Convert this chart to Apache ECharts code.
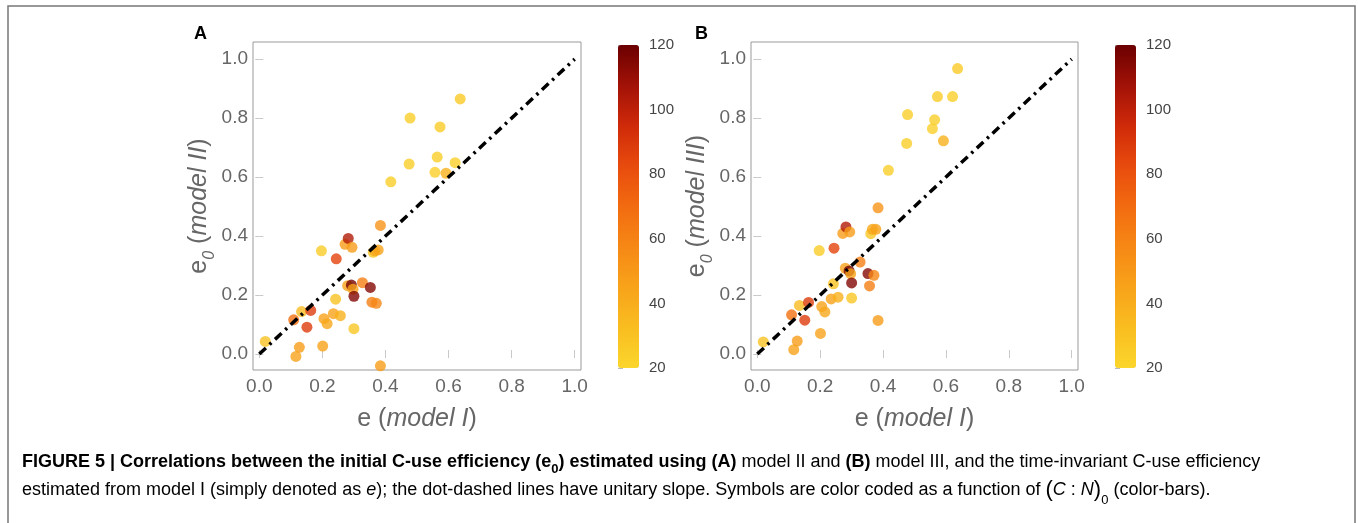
<!DOCTYPE html>
<html>
<head>
<meta charset="utf-8">
<script src="https://cdn.jsdelivr.net/npm/echarts@6/dist/echarts.min.js"></script>
<style>
  html, body { margin: 0; padding: 0; background: #fff; }
  #fig { width: 1358px; height: 523px; }
</style>
</head>
<body>
<div id="fig"></div>
<script>
// e estimated from model I (x of both panels)
const eModelI = [0.019, 0.116, 0.127, 0.109, 0.134, 0.163, 0.151, 0.201, 0.205, 0.215,
  0.235, 0.257, 0.242, 0.197, 0.244, 0.272, 0.282, 0.294, 0.280, 0.292,
  0.297, 0.300, 0.300, 0.327, 0.352, 0.357, 0.371, 0.361, 0.366, 0.377,
  0.384, 0.384, 0.417, 0.475, 0.478, 0.557, 0.564, 0.573, 0.592, 0.621, 0.637]
// e0 from model II (panel A)
const e0ModelII = [0.043, -0.008, 0.023, 0.116, 0.144, 0.148, 0.091, 0.027, 0.120, 0.103,
  0.137, 0.130, 0.186, 0.350, 0.323, 0.372, 0.392, 0.362, 0.232, 0.234,
  0.220, 0.196, 0.086, 0.242, 0.226, 0.176, 0.172, 0.345, 0.350, 0.353,
  0.436, -0.040, 0.584, 0.644, 0.800, 0.616, 0.668, 0.770, 0.613, 0.649, 0.865]
// e0 from model III (panel B)
const e0ModelIII = [0.041, 0.015, 0.044, 0.133, 0.165, 0.175, 0.115, 0.070, 0.161, 0.143,
  0.187, 0.193, 0.238, 0.351, 0.359, 0.409, 0.431, 0.414, 0.291, 0.282,
  0.272, 0.241, 0.190, 0.312, 0.273, 0.231, 0.267, 0.408, 0.423, 0.423,
  0.496, 0.114, 0.623, 0.714, 0.812, 0.764, 0.794, 0.873, 0.723, 0.873, 0.968]
// (C:N)0 used for the colour of each symbol
const cn0 = [30, 45, 48, 68, 33, 88, 88, 45, 45, 43,
  45, 38, 30, 25, 85, 48, 103, 48, 45, 118,
  45, 115, 28, 62, 114, 62, 58, 28, 42, 45,
  52, 48, 24, 24, 24, 23, 24, 25, 38, 23, 26]
// unit slope reference line
const unitLine = [[0, 0], [1, 1]]
const axisTicks = [0, 0.2, 0.4, 0.6, 0.8, 1.0]
const solarColors = ['#fbd62c', '#f9bd20', '#f8a31a', '#f68815', '#f26b10', '#e84b0d', '#cf2a09', '#a21207', '#6b0000']

const font = '"Liberation Sans", Arial, sans-serif'
const grey = '#666'

const chart = echarts.init(document.getElementById('fig'))

// frame axes of a panel
function frameX(grid, pos, label) {
  return {
    type: 'value', gridIndex: grid, position: pos, min: -0.02, max: 1.02,
    axisLine: {show: false},
    splitLine: {show: false},
    axisTick: {show: true, inside: true, length: 4, customValues: axisTicks, lineStyle: {color: '#c8c8c8'}},
    axisLabel: {
      show: label, customValues: axisTicks, color: grey, fontSize: 19, fontFamily: font, margin: 7,
      formatter: v => v.toFixed(1)
    }
  }
}

function frameY(grid, pos, label) {
  return {
    type: 'value', gridIndex: grid, position: pos, min: -0.054, max: 1.058,
    axisLine: {show: false},
    splitLine: {show: false},
    axisTick: {show: true, inside: true, length: 4, customValues: axisTicks, lineStyle: {color: '#c8c8c8'}},
    axisLabel: {
      show: label, customValues: axisTicks, color: grey, fontSize: 19, fontFamily: font, margin: 5,
      formatter: v => v.toFixed(1)
    }
  }
}

function colorAxis(grid) {
  return {
    type: 'value', gridIndex: grid, position: 'right', min: 20, max: 120, interval: 20,
    axisLine: {show: false},
    splitLine: {show: false},
    axisTick: {show: true, length: 5, lineStyle: {color: '#bbb'}},
    minorTick: {show: true, splitNumber: 4, length: 4, lineStyle: {color: '#ccc'}},
    axisLabel: {color: '#444', fontSize: 15, fontFamily: font, margin: 10}
  }
}

const nameRich = {
  n: {fontSize: 25, color: grey, fontFamily: font},
  i: {fontSize: 25, color: grey, fontFamily: font, fontStyle: 'italic'},
  s: {fontSize: 16, color: grey, fontFamily: font, fontStyle: 'italic', verticalAlign: 'bottom', padding: [0, 0, -6, 0]}
}

const xA = frameX(0, 'bottom', true)
xA.name = '{n|e (}{i|model I}{n|)}'
xA.nameLocation = 'middle'
xA.nameGap = 37
xA.nameTextStyle = {rich: nameRich}
const xB = frameX(1, 'bottom', true)
xB.name = xA.name
xB.nameLocation = 'middle'
xB.nameGap = 37
xB.nameTextStyle = {rich: nameRich}

const yA = frameY(0, 'left', true)
yA.name = '{n|e}{s|0}{n| (}{i|model II}{n|)}'
yA.nameLocation = 'middle'
yA.nameGap = 33
yA.nameTextStyle = {rich: nameRich}
const yB = frameY(1, 'left', true)
yB.name = '{n|e}{s|0}{n| (}{i|model III}{n|)}'
yB.nameLocation = 'middle'
yB.nameGap = 33
yB.nameTextStyle = {rich: nameRich}

function points(ys) {
  return eModelI.map((x, k) => [x, ys[k], cn0[k]])
}

function diagonal(xi, yi) {
  return {
    type: 'line', xAxisIndex: xi, yAxisIndex: yi, data: unitLine, symbol: 'none', silent: true, z: 5,
    lineStyle: {color: '#000', width: 3.5, type: [9, 5, 2.5, 5], cap: 'butt'}
  }
}

function colorMap(series, left) {
  return {
    type: 'continuous', seriesIndex: series, dimension: 2, min: 20, max: 120,
    inRange: {color: solarColors},
    calculable: false, hoverLink: false, orient: 'vertical',
    left: left, top: 45, itemWidth: 21, itemHeight: 323, padding: 0
  }
}

// caption text styles
const cap = {
  b: {fontSize: 18, fontWeight: 'bold', color: '#222', fontFamily: font},
  bs: {fontSize: 13, fontWeight: 'bold', color: '#222', fontFamily: font, verticalAlign: 'bottom', padding: [0, 0, -5, 0]},
  r: {fontSize: 18, color: '#444', fontFamily: font},
  it: {fontSize: 18, color: '#444', fontFamily: font, fontStyle: 'italic'},
  p: {fontSize: 22, color: '#444', fontFamily: font},
  rs: {fontSize: 13, color: '#444', fontFamily: font, verticalAlign: 'bottom', padding: [0, 0, -6, 0]}
}

chart.setOption({
  animation: false,
  grid: [
    {left: 253, top: 42, width: 328, height: 328, show: true, borderColor: '#9a9a9a', borderWidth: 1},
    {left: 751, top: 42, width: 327, height: 328, show: true, borderColor: '#9a9a9a', borderWidth: 1},
    {left: 618, top: 45, width: 21, height: 323},
    {left: 1115, top: 45, width: 21, height: 323}
  ],
  xAxis: [
    xA, frameX(0, 'top', false), xB, frameX(1, 'top', false),
    {type: 'value', gridIndex: 2, show: false}, {type: 'value', gridIndex: 3, show: false}
  ],
  yAxis: [
    yA, frameY(0, 'right', false), yB, frameY(1, 'right', false),
    colorAxis(2), colorAxis(3)
  ],
  visualMap: [colorMap(0, 618), colorMap(2, 1115)],
  series: [
    {type: 'scatter', xAxisIndex: 0, yAxisIndex: 0, data: points(e0ModelII), symbolSize: 11, z: 3},
    diagonal(0, 0),
    {type: 'scatter', xAxisIndex: 2, yAxisIndex: 2, data: points(e0ModelIII), symbolSize: 11, z: 3},
    diagonal(2, 2)
  ],
  graphic: [
    {type: 'rect', shape: {x: 8, y: 6, width: 1347, height: 560}, style: {fill: 'none', stroke: '#777', lineWidth: 1.5}, silent: true},
    {type: 'text', style: {x: 194, y: 25, text: 'A', font: 'bold 18px ' + font, fill: '#000'}},
    {type: 'text', style: {x: 695, y: 25, text: 'B', font: 'bold 18px ' + font, fill: '#000'}},
    {
      type: 'text',
      style: {
        x: 22, y: 462, verticalAlign: 'middle',
        text: '{b|FIGURE 5 | Correlations between the initial C-use efficiency (e}{bs|0}{b|) estimated using (A)}{r| model II and }{b|(B)}{r| model III, and the time-invariant C-use efficiency}',
        rich: cap
      }
    },
    {
      type: 'text',
      style: {
        x: 22, y: 490, verticalAlign: 'middle',
        text: '{r|estimated from model I (simply denoted as }{it|e}{r|); the dot-dashed lines have unitary slope. Symbols are color coded as a function of }{p|(}{it|C}{r| : }{it|N}{p|)}{rs|0}{r| (color-bars).}',
        rich: cap
      }
    }
  ]
})
</script>
</body>
</html>
